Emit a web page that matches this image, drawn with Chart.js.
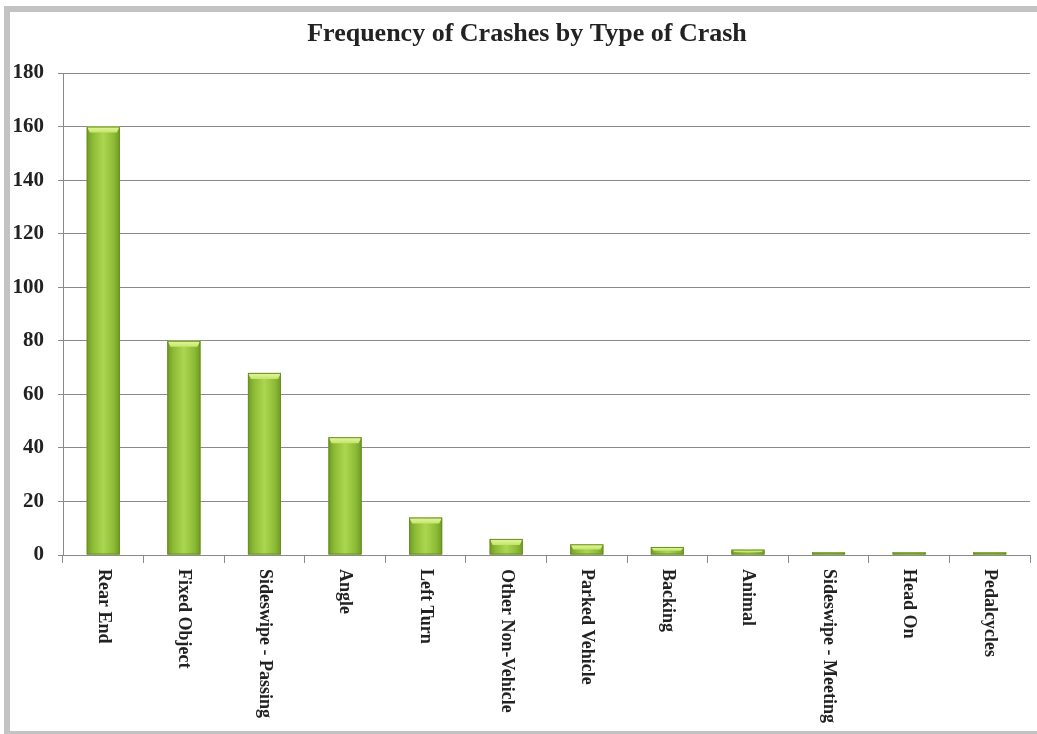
<!DOCTYPE html>
<html>
<head>
<meta charset="utf-8">
<script src="https://cdn.jsdelivr.net/npm/chart.js@4/dist/chart.umd.min.js"></script>
<style>
html,body{margin:0;padding:0;background:#fff;}
#wrap{position:relative;width:1037px;height:734px;}
</style>
</head>
<body>
<div id="wrap"><canvas id="c" width="1037" height="734"></canvas></div>
<script>
const categories = ["Rear End","Fixed Object","Sideswipe - Passing","Angle","Left Turn","Other Non-Vehicle","Parked Vehicle","Backing","Animal","Sideswipe - Meeting","Head On","Pedalcycles"];
const crashCounts = [160, 80, 68, 44, 14, 6, 4, 3, 2, 1, 1, 1];
const titleText = "Frequency of Crashes by Type of Crash";
const yTicks = [0,20,40,60,80,100,120,140,160,180];

const serif = "'Liberation Serif','Times New Roman',serif";

const framePlugin = {
  id: 'frame',
  beforeDraw(chart) {
    const ctx = chart.ctx;
    ctx.save();
    ctx.fillStyle = '#ffffff';
    ctx.fillRect(0,0,chart.width,chart.height);
    ctx.fillStyle = '#c3c3c3';
    ctx.fillRect(4,6,6,728);
    ctx.fillRect(4,6,chart.width-4,6);
    ctx.fillRect(4,731,chart.width-4,3);
    ctx.restore();
  },
  afterDraw(chart) {
    const ctx = chart.ctx;
    ctx.save();
    ctx.font = "bold 26px " + serif;
    ctx.fillStyle = '#222';
    ctx.textAlign = 'center';
    ctx.textBaseline = 'middle';
    ctx.fillText(titleText, 527, 34);
    ctx.restore();
  }
};

const barStyle = {
  id: 'barStyle',
  afterDatasetsDraw(chart) {
    const ctx = chart.ctx;
    const meta = chart.getDatasetMeta(0);
    meta.data.forEach(el => {
      const p = el.getProps(['x','y','base','width'], true);
      const left = p.x - p.width/2, top = p.y, h = p.base - p.y, w = p.width;
      if (h <= 0) return;
      ctx.save();
      const g = ctx.createLinearGradient(left,0,left+w,0);
      g.addColorStop(0,'#6f9a27');
      g.addColorStop(0.18,'#8dbb36');
      g.addColorStop(0.5,'#acd650');
      g.addColorStop(0.82,'#8dbb36');
      g.addColorStop(1,'#6f9a27');
      ctx.fillStyle = g;
      ctx.fillRect(left,top,w,h);
      const bh = Math.min(6, h/2);
      const g2 = ctx.createLinearGradient(0,top,0,top+bh);
      g2.addColorStop(0,'#e6f8a0');
      g2.addColorStop(1,'#c4e46c');
      ctx.fillStyle = g2;
      ctx.beginPath();
      ctx.moveTo(left,top);
      ctx.lineTo(left+w,top);
      ctx.lineTo(left+w-3,top+bh);
      ctx.lineTo(left+3,top+bh);
      ctx.closePath();
      ctx.fill();
      ctx.strokeStyle = '#6a8f24';
      ctx.lineWidth = 1;
      ctx.strokeRect(left+0.5,top+0.5,w-1,h-1);
      ctx.restore();
    });
  }
};

const catLabels = {
  id: 'catLabels',
  afterDraw(chart) {
    const ctx = chart.ctx;
    const xs = chart.scales.x;
    ctx.save();
    ctx.font = "bold 18px " + serif;
    ctx.fillStyle = '#222';
    ctx.textAlign = 'left';
    ctx.textBaseline = 'middle';
    categories.forEach((c,i) => {
      const x = xs.getPixelForValue(i);
      ctx.save();
      ctx.translate(x, chart.chartArea.bottom + 14);
      ctx.rotate(Math.PI/2);
      ctx.fillText(c, 0, 0);
      ctx.restore();
    });
    ctx.restore();
  }
};

new Chart(document.getElementById('c'), {
  type: 'bar',
  data: {
    labels: categories,
    datasets: [{
      data: crashCounts,
      backgroundColor: '#92bf3a',
      borderWidth: 0,
      barPercentage: 0.41,
      categoryPercentage: 1
    }]
  },
  options: {
    responsive: false,
    animation: false,
    devicePixelRatio: 1,
    layout: { padding: { left: 0, right: 7, top: 73, bottom: 171 } },
    plugins: {
      legend: { display: false },
      tooltip: { enabled: false },
      title: { display: false }
    },
    scales: {
      x: {
        ticks: { display: false },
        grid: { drawOnChartArea: false, drawTicks: true, tickLength: 8, color: '#8a8a8a', offset: true },
        border: { color: '#8a8a8a' }
      },
      y: {
        min: 0, max: 180,
        afterFit(scale) { scale.width = 63; },
        afterBuildTicks(scale) { scale.ticks = yTicks.map(v => ({ value: v })); },
        ticks: {
          color: '#222',
          padding: 14,
          font: { family: serif, size: 21, weight: 'bold' }
        },
        grid: { color: '#8a8a8a', tickLength: 5 },
        border: { color: '#8a8a8a' }
      }
    }
  },
  plugins: [framePlugin, barStyle, catLabels]
});
</script>
</body>
</html>
